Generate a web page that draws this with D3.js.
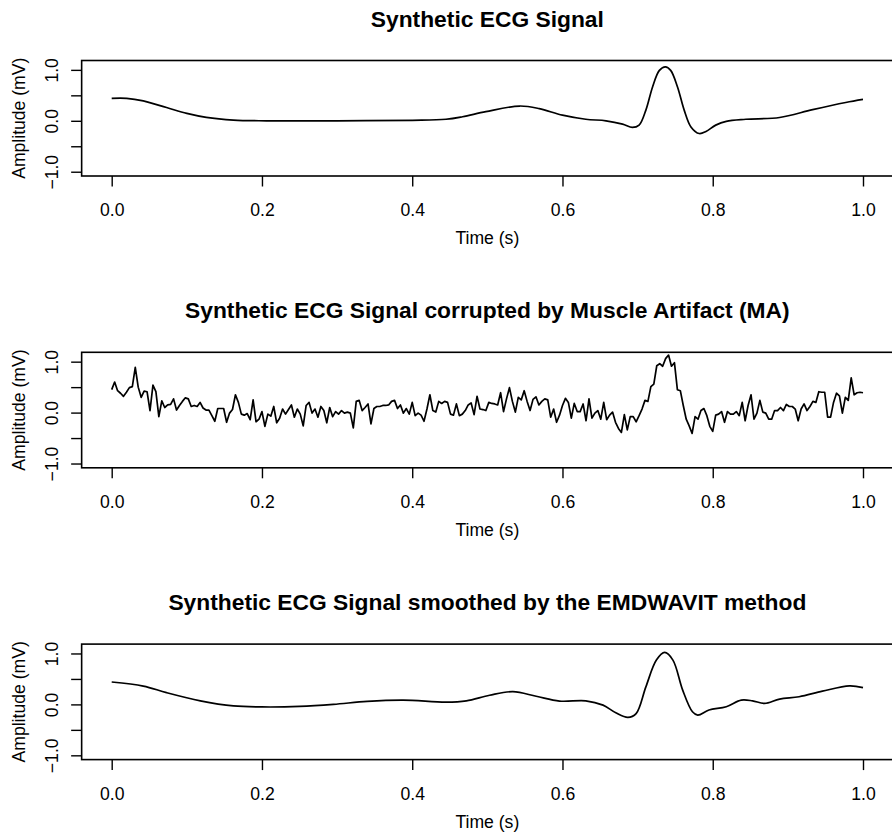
<!DOCTYPE html>
<html>
<head>
<meta charset="utf-8">
<script src="https://cdn.jsdelivr.net/npm/d3@7"></script>
<style>
  html, body { margin: 0; padding: 0; background: #fff; }
  svg { display: block; }
  text { font-family: "Liberation Sans", Arial, Helvetica, sans-serif; fill: #000; }
</style>
</head>
<body>
<div id="chart"></div>
<script>
// ---------------- DATA ----------------
const titles = [
  "Synthetic ECG Signal",
  "Synthetic ECG Signal corrupted by Muscle Artifact (MA)",
  "Synthetic ECG Signal smoothed by the EMDWAVIT method"
];
const xLabel = "Time (s)";
const yLabel = "Amplitude (mV)";
const xTicks = [0, 0.2, 0.4, 0.6, 0.8, 1.0];
const yTicks = [-1, -0.5, 0, 0.5, 1];
const yTickLabels = [-1, 0, 1];

// Panel 1: clean synthetic ECG (time s, amplitude mV)
const cleanT = [0, 0.02, 0.042, 0.073, 0.1, 0.126, 0.162, 0.206, 0.3, 0.4, 0.445, 0.467, 0.498, 0.543, 0.569, 0.6, 0.631, 0.658, 0.68, 0.693, 0.702, 0.711, 0.72, 0.729, 0.737, 0.744, 0.753, 0.762, 0.771, 0.782, 0.791, 0.804, 0.818, 0.844, 0.889, 0.933, 0.977, 1.0];
const cleanV = [0.44, 0.44, 0.39, 0.26, 0.145, 0.067, 0.014, 0.0, 0.0, 0.01, 0.03, 0.08, 0.18, 0.29, 0.24, 0.11, 0.03, 0.0, -0.065, -0.13, -0.085, 0.21, 0.67, 0.99, 1.06, 0.99, 0.67, 0.21, -0.12, -0.25, -0.21, -0.085, -0.01, 0.03, 0.065, 0.22, 0.36, 0.42];

// Panel 2: noisy ECG, 256 uniformly spaced samples over [0, 1] s
const noisyV = [
  0.45, 0.60, 0.43, 0.38, 0.32, 0.40, 0.49, 0.51, 0.89, 0.50, 0.30, 0.42, 0.41, 0.04, 0.54, 0.41, -0.08, 0.23, 0.10, 0.15,
  0.16, 0.27, 0.05, 0.14, 0.22, 0.29, 0.27, 0.12, 0.14, 0.12, 0.20, 0.09, 0.05, 0.05, -0.06, -0.17, 0.08, 0.08, 0.08, -0.19,
  -0.01, 0.06, 0.35, 0.20, -0.03, -0.05, -0.02, -0.14, 0.25, -0.18, -0.13,
  0.02, -0.27, -0.03, -0.07, 0.12, -0.20, -0.11, 0.07, -0.03, 0.06, 0.15, -0.09, 0.07, -0.03, -0.26, 0.14, 0.20, -0.01, 0.07,
  -0.09, 0.12, 0.04, -0.20, 0.10, -0.08, 0.02, -0.03, 0.04, -0.01, 0.01, -0.01, -0.30, 0.22, 0.24, 0.04, 0.10, 0.17, -0.22, 0.08,
  0.12, 0.12, 0.14, 0.14, 0.15, 0.22, 0.24, 0.08, 0.15, -0.01, 0.08, -0.03,
  0.20, -0.06, -0.01, -0.05, -0.17, 0.07, 0.35, 0.04, 0.01, 0.22, 0.18, 0.22, 0.20, -0.03, -0.05, 0.17, -0.06, -0.03, 0.04, 0.15,
  0.19, -0.04, 0.32, 0.07, 0.06, 0.04, 0.20, 0.18, 0.17, 0.15, 0.39, 0.02, 0.27, 0.49, 0.22, 0.01, 0.30, 0.25, 0.43, 0.22,
  0.04, 0.26, 0.31, 0.15, 0.22, 0.27, 0.25, -0.09, 0.07, -0.19, -0.05, 0.14,
  0.28, 0.20, -0.11, 0.18, 0.02, 0.02, 0.17, -0.16, 0.27, -0.11, -0.01, 0.04, -0.13, 0.20, -0.14, -0.05, 0.01, -0.19, -0.31, -0.39,
  -0.04, -0.34, -0.08, -0.08, -0.18, -0.06, 0.07, 0.24, 0.22, 0.51, 0.56, 0.92, 0.96, 0.91, 1.06, 1.13, 0.91, 0.98, 0.45, 0.43,
  0.14, -0.13, -0.26, -0.41, -0.08, -0.13, 0.04, 0.08, -0.06, -0.27, -0.37,
  -0.05, -0.03, 0.02, -0.19, 0.02, -0.03, -0.03, 0.02, -0.06, 0.20, -0.16, 0.14, 0.35, -0.13, -0.01, 0.24, 0.01, -0.01, -0.13, -0.13,
  0.04, 0.04, 0.10, 0.04, 0.16, 0.12, 0.12, 0.07, -0.16, 0.07, 0.17, 0.04, 0.12, 0.22, 0.20, 0.41, 0.40, 0.40, -0.09, -0.09,
  0.20, 0.38, 0.33, -0.01, 0.30, 0.24, 0.68, 0.35, 0.39, 0.40, 0.39
];

// Panel 3: EMDWAVIT-smoothed ECG (time s, amplitude mV)
const smoothT = [0, 0.042, 0.073, 0.118, 0.162, 0.2, 0.25, 0.295, 0.34, 0.388, 0.445, 0.472, 0.503, 0.534, 0.565, 0.596, 0.631, 0.654, 0.671, 0.687, 0.698, 0.711, 0.725, 0.736, 0.747, 0.76, 0.773, 0.78, 0.795, 0.818, 0.838, 0.853, 0.869, 0.889, 0.915, 0.946, 0.982, 1.0];
const smoothV = [0.44, 0.36, 0.23, 0.07, -0.03, -0.05, -0.04, 0.0, 0.06, 0.085, 0.045, 0.07, 0.18, 0.25, 0.16, 0.065, 0.07, -0.015, -0.165, -0.255, -0.18, 0.345, 0.87, 1.02, 0.87, 0.28, -0.145, -0.21, -0.11, -0.045, 0.085, 0.07, 0.02, 0.105, 0.15, 0.26, 0.365, 0.33];

// ---------------- LAYOUT ----------------
const W = 892, H = 835;
const panelStep = 291.8;
const boxTop = 60.5, boxBottom = 176;
const fontAxis = 17.6, fontTitle = 22.8;
const tickLen = 10.5;

const x = d3.scaleLinear().domain([-0.04, 1.04]).range([81.65, 893.05]);
const y = d3.scaleLinear().domain([-1.084, 1.184]).range([boxBottom, boxTop]);

const svg = d3.select("#chart").append("svg").attr("width", W).attr("height", H);

const panels = [
  { data: cleanT.map((t, i) => [t, cleanV[i]]), curve: d3.curveCatmullRom.alpha(0.5) },
  { data: noisyV.map((v, i) => [i / (noisyV.length - 1), v]), curve: d3.curveLinear },
  { data: smoothT.map((t, i) => [t, smoothV[i]]), curve: d3.curveCatmullRom.alpha(0.5) }
];

panels.forEach((p, k) => {
  const g = svg.append("g").attr("transform", `translate(0,${k * panelStep})`);

  // title
  g.append("text")
    .attr("x", (x(-0.04) + x(1.04)) / 2)
    .attr("y", 26.5)
    .attr("text-anchor", "middle")
    .attr("font-weight", "bold")
    .attr("font-size", fontTitle)
    .text(titles[k]);

  // line
  const line = d3.line().x(d => x(d[0])).y(d => y(d[1])).curve(p.curve);
  g.append("path")
    .datum(p.data)
    .attr("d", line)
    .attr("fill", "none")
    .attr("stroke", "#000")
    .attr("stroke-width", 1.7)
    .attr("stroke-linejoin", "round");

  // box
  g.append("rect")
    .attr("x", x(-0.04)).attr("y", boxTop)
    .attr("width", x(1.04) - x(-0.04)).attr("height", boxBottom - boxTop)
    .attr("fill", "none").attr("stroke", "#000").attr("stroke-width", 1.6);

  // x axis
  const xa = g.append("g").attr("transform", `translate(0,${boxBottom})`)
    .call(d3.axisBottom(x).tickValues(xTicks).tickSize(tickLen).tickFormat(d3.format(".1f")));
  xa.select(".domain").remove();
  xa.selectAll(".tick line").attr("stroke", "#000").attr("stroke-width", 1.4);
  xa.selectAll(".tick text")
    .attr("font-size", fontAxis)
    .attr("font-family", "Liberation Sans, Arial, sans-serif")
    .attr("fill", "#000")
    .attr("y", 0).attr("dy", 0)
    .attr("transform", "translate(0,40.2)");

  // y axis
  const ya = g.append("g").attr("transform", `translate(${x(-0.04)},0)`)
    .call(d3.axisLeft(y).tickValues(yTicks).tickSize(tickLen).tickFormat(d => yTickLabels.includes(d) ? d3.format(".1f")(d) : ""));
  ya.select(".domain").remove();
  ya.selectAll(".tick line").attr("stroke", "#000").attr("stroke-width", 1.4);
  ya.selectAll(".tick text")
    .attr("font-size", fontAxis)
    .attr("font-family", "Liberation Sans, Arial, sans-serif")
    .attr("fill", "#000")
    .attr("x", 0).attr("dy", 0)
    .attr("text-anchor", "middle")
    .attr("transform", "translate(-23.5,0) rotate(-90)")
    .attr("y", 0);

  // axis labels
  g.append("text")
    .attr("x", (x(-0.04) + x(1.04)) / 2)
    .attr("y", 244)
    .attr("text-anchor", "middle")
    .attr("font-size", fontAxis)
    .text(xLabel);

  g.append("text")
    .attr("transform", `translate(24.5,${(boxTop + boxBottom) / 2}) rotate(-90)`)
    .attr("text-anchor", "middle")
    .attr("font-size", fontAxis)
    .text(yLabel);
});
</script>
</body>
</html>
